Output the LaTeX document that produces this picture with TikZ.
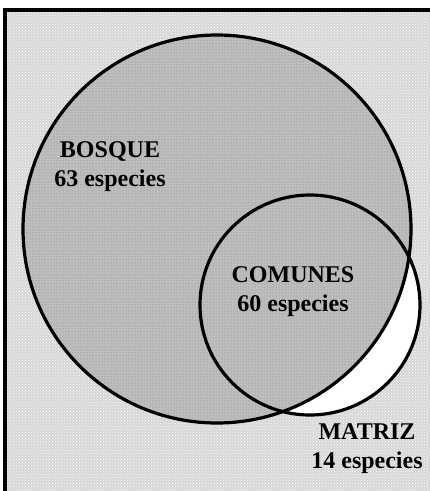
\documentclass[tikz,border=0pt]{standalone}
\usepackage{fontspec}
\setmainfont{Liberation Serif}
\usepackage{tikz}
\usetikzlibrary{patterns}
\definecolor{fondogris}{RGB}{214, 214, 214}
\definecolor{bosquegris}{RGB}{190, 190, 190}

\begin{document}
\begin{tikzpicture}[
  x=1pt, y=-1pt,
  etiqueta/.style={align=center, inner sep=0pt, font=\fontsize{24}{29}\selectfont\bfseries},
  borde/.style={draw=black, line width=3.2pt}
]
  \useasboundingbox (0,0) rectangle (430,491);
  % fondo y marco
  \fill[fondogris] (5,10) rectangle (430,491);
  \fill[pattern=crosshatch dots, pattern color=white] (5,10) rectangle (430,491);
  \draw[line width=3.4pt] (5,491) -- (5,10) -- (430,10);
  % circulos
  \fill[white] (310,305) circle[radius=110];
  \fill[bosquegris] (217,229) circle[radius=194];
  \fill[pattern=dots, pattern color=gray] (217,229) circle[radius=194];
  \draw[borde] (217,229) circle[radius=194];
  \draw[borde] (310,305) circle[radius=110];
  % textos
  \node[etiqueta] (bosque) at (110,167) {BOSQUE\\63 especies};
  \node[etiqueta] (comunes) at (293,292) {COMUNES\\60 especies};
  \node[etiqueta] (matriz) at (367,449) {MATRIZ\\14 especies};
\end{tikzpicture}
\end{document}
